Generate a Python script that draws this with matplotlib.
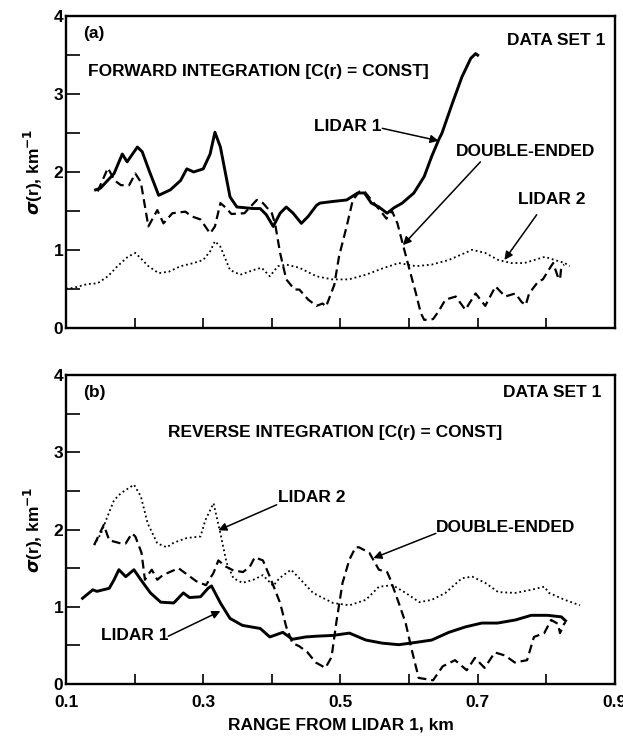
import matplotlib
matplotlib.use('Agg')
from matplotlib import pyplot as plt

plt.rcParams['font.family'] = ['Liberation Sans', 'DejaVu Sans']
plt.rcParams['font.weight'] = 'bold'
plt.rcParams['axes.labelweight'] = 'bold'
plt.rcParams['mathtext.fontset'] = 'dejavusans'

# (a) forward integration
fwd_lidar1_x = [0.143, 0.15, 0.17, 0.182, 0.189, 0.204, 0.211, 0.221, 0.235, 0.252, 0.267, 0.276, 0.286,
                0.30, 0.31, 0.317, 0.325, 0.339, 0.349, 0.373, 0.383, 0.392, 0.402, 0.412, 0.421, 0.431,
                0.443, 0.453, 0.465, 0.47, 0.488, 0.509, 0.525, 0.535, 0.545, 0.556, 0.568, 0.578, 0.59,
                0.607, 0.622, 0.633, 0.643, 0.648, 0.663, 0.677, 0.69, 0.697, 0.70]
fwd_lidar1_y = [1.77, 1.79, 1.98, 2.23, 2.13, 2.32, 2.26, 2.02, 1.70, 1.77, 1.89, 2.04, 2.00,
                2.04, 2.23, 2.51, 2.32, 1.68, 1.55, 1.53, 1.53, 1.45, 1.30, 1.47, 1.55, 1.47,
                1.34, 1.43, 1.57, 1.60, 1.62, 1.64, 1.73, 1.73, 1.60, 1.55, 1.47, 1.54, 1.60,
                1.73, 1.94, 2.20, 2.41, 2.50, 2.88, 3.22, 3.46, 3.52, 3.50]

fwd_double_x = [0.146, 0.161, 0.171, 0.18, 0.192, 0.201, 0.209, 0.22, 0.233, 0.242, 0.255, 0.274, 0.283,
                0.296, 0.31, 0.317, 0.325, 0.333, 0.341, 0.36, 0.378, 0.387, 0.40, 0.405, 0.412, 0.421,
                0.433, 0.44, 0.453, 0.465, 0.474, 0.479, 0.491, 0.498, 0.509, 0.518, 0.528, 0.535, 0.545,
                0.561, 0.567, 0.575, 0.583, 0.593, 0.602, 0.61, 0.617, 0.622, 0.635, 0.643, 0.653, 0.668,
                0.682, 0.697, 0.711, 0.726, 0.74, 0.755, 0.764, 0.77, 0.775, 0.788, 0.795, 0.807, 0.81,
                0.817, 0.82, 0.822, 0.826]
fwd_double_y = [1.75, 2.05, 1.89, 1.83, 1.83, 1.98, 1.87, 1.30, 1.51, 1.34, 1.47, 1.49, 1.43,
                1.39, 1.21, 1.30, 1.60, 1.54, 1.46, 1.47, 1.64, 1.60, 1.47, 1.32, 0.96, 0.62,
                0.49, 0.49, 0.36, 0.28, 0.31, 0.27, 0.55, 0.92, 1.30, 1.64, 1.75, 1.75, 1.64,
                1.47, 1.40, 1.50, 1.34, 1.00, 0.70, 0.44, 0.19, 0.10, 0.11, 0.21, 0.36, 0.40,
                0.23, 0.44, 0.28, 0.53, 0.40, 0.44, 0.33, 0.29, 0.44, 0.59, 0.62, 0.79, 0.83,
                0.65, 0.62, 0.79, 0.81]

fwd_lidar2_x = [0.10, 0.11, 0.131, 0.146, 0.161, 0.175, 0.19, 0.201, 0.209, 0.22, 0.235, 0.25, 0.267,
                0.286, 0.30, 0.31, 0.317, 0.325, 0.339, 0.354, 0.373, 0.385, 0.397, 0.409, 0.421, 0.44,
                0.465, 0.488, 0.512, 0.537, 0.561, 0.585, 0.61, 0.633, 0.658, 0.692, 0.711, 0.73, 0.749,
                0.768, 0.783, 0.798, 0.812, 0.827, 0.834]
fwd_lidar2_y = [0.50, 0.51, 0.56, 0.57, 0.66, 0.79, 0.91, 0.96, 0.89, 0.79, 0.70, 0.72, 0.79,
                0.83, 0.87, 0.98, 1.11, 1.04, 0.74, 0.68, 0.74, 0.77, 0.66, 0.79, 0.81, 0.77,
                0.66, 0.62, 0.62, 0.68, 0.76, 0.83, 0.79, 0.81, 0.87, 1.00, 0.96, 0.87, 0.83,
                0.83, 0.87, 0.91, 0.87, 0.83, 0.79]

# (b) reverse integration
rev_lidar1_x = [0.124, 0.139, 0.145, 0.163, 0.17, 0.177, 0.187, 0.199, 0.209, 0.223, 0.238, 0.257, 0.271,
                0.28, 0.296, 0.307, 0.312, 0.325, 0.339, 0.357, 0.383, 0.397, 0.416, 0.43, 0.449, 0.465,
                0.489, 0.513, 0.537, 0.561, 0.585, 0.61, 0.633, 0.658, 0.682, 0.706, 0.729, 0.755, 0.778,
                0.802, 0.822, 0.828]
rev_lidar1_y = [1.11, 1.22, 1.20, 1.24, 1.35, 1.48, 1.39, 1.48, 1.35, 1.18, 1.06, 1.05, 1.18,
                1.12, 1.13, 1.24, 1.27, 1.05, 0.85, 0.76, 0.72, 0.61, 0.67, 0.58, 0.61, 0.62,
                0.63, 0.66, 0.57, 0.53, 0.51, 0.54, 0.57, 0.67, 0.74, 0.79, 0.79, 0.83, 0.89,
                0.89, 0.87, 0.82]

rev_lidar2_x = [0.141, 0.151, 0.16, 0.17, 0.18, 0.199, 0.209, 0.219, 0.233, 0.247, 0.257, 0.276, 0.296,
                0.303, 0.315, 0.325, 0.334, 0.344, 0.357, 0.373, 0.387, 0.402, 0.411, 0.428, 0.44, 0.46,
                0.489, 0.513, 0.537, 0.556, 0.576, 0.595, 0.615, 0.633, 0.653, 0.677, 0.692, 0.711, 0.73,
                0.755, 0.778, 0.797, 0.804, 0.827, 0.849]
rev_lidar2_y = [1.80, 1.95, 2.16, 2.38, 2.47, 2.58, 2.43, 2.08, 1.82, 1.77, 1.83, 1.89, 1.91,
                2.12, 2.34, 1.95, 1.57, 1.37, 1.31, 1.35, 1.41, 1.27, 1.37, 1.48, 1.37, 1.18,
                1.05, 1.02, 1.09, 1.26, 1.28, 1.18, 1.06, 1.09, 1.18, 1.37, 1.39, 1.31, 1.19,
                1.18, 1.22, 1.26, 1.18, 1.09, 1.02]

rev_double_x = [0.141, 0.155, 0.163, 0.18, 0.187, 0.196, 0.201, 0.21, 0.215, 0.219, 0.225, 0.233, 0.241,
                0.264, 0.27, 0.29, 0.304, 0.315, 0.322, 0.333, 0.344, 0.358, 0.368, 0.375, 0.387, 0.397,
                0.412, 0.421, 0.43, 0.44, 0.452, 0.464, 0.478, 0.487, 0.494, 0.503, 0.513, 0.522, 0.527,
                0.542, 0.556, 0.568, 0.572, 0.585, 0.595, 0.604, 0.614, 0.635, 0.649, 0.667, 0.684, 0.696,
                0.71, 0.725, 0.74, 0.754, 0.772, 0.782, 0.797, 0.807, 0.817, 0.82, 0.826, 0.828]
rev_double_y = [1.80, 2.06, 1.86, 1.82, 1.82, 1.95, 1.91, 1.70, 1.35, 1.41, 1.48, 1.35, 1.41,
                1.50, 1.46, 1.33, 1.28, 1.44, 1.60, 1.52, 1.47, 1.45, 1.52, 1.64, 1.60, 1.39,
                1.05, 0.74, 0.53, 0.49, 0.41, 0.28, 0.21, 0.35, 0.80, 1.31, 1.61, 1.77, 1.77,
                1.70, 1.48, 1.45, 1.37, 1.05, 0.79, 0.44, 0.08, 0.05, 0.23, 0.31, 0.18, 0.34,
                0.21, 0.41, 0.37, 0.28, 0.31, 0.61, 0.66, 0.83, 0.78, 0.66, 0.78, 0.80]

x_ticks = [0.1, 0.2, 0.3, 0.4, 0.5, 0.6, 0.7, 0.8, 0.9]
x_tick_labels = ['0.1', '', '0.3', '', '0.5', '', '0.7', '', '0.9']
y_ticks = [0, 0.5, 1, 1.5, 2, 2.5, 3, 3.5, 4]
y_tick_labels = ['0', '', '1', '', '2', '', '3', '', '4']

TXT = 12.5


def plot_curves(ax, l1x, l1y, dx, dy, l2x, l2y):
    ax.plot(l1x, l1y, color='black', lw=2.1, solid_joinstyle='round')
    ax.plot(dx, dy, color='black', lw=1.6, linestyle=(0, (4, 2.2)))
    ax.plot(l2x, l2y, color='black', lw=1.3, linestyle=(0, (1, 1.6)))


def style_axes(ax, show_x_labels):
    ax.set_xlim(0.1, 0.9)
    ax.set_ylim(0, 4)
    ax.set_xticks(x_ticks)
    ax.set_xticklabels(x_tick_labels if show_x_labels else [''] * len(x_ticks))
    ax.set_yticks(y_ticks)
    ax.set_yticklabels(y_tick_labels)
    ax.tick_params(axis='x', direction='in', length=7, width=1.2, labelsize=12.5, pad=8)
    ax.tick_params(axis='y', direction='in', length=10, width=1.2, labelsize=12.5, pad=2)
    for s in ax.spines.values():
        s.set_linewidth(1.7)
    ax.set_ylabel(r'$\sigma$(r), km$^{-1}$', fontsize=12.5, labelpad=6)


def arrow(ax, head, tail):
    ax.annotate('', xy=head, xytext=tail,
                arrowprops=dict(arrowstyle='-|>', color='black', lw=1.1,
                                mutation_scale=12, shrinkA=0, shrinkB=0))


fig = plt.figure(figsize=(6.23, 7.38), dpi=100)
ax1 = fig.add_axes([0.106, 0.556, 0.881, 0.422])
ax2 = fig.add_axes([0.106, 0.073, 0.881, 0.419])

plot_curves(ax1, fwd_lidar1_x, fwd_lidar1_y, fwd_double_x, fwd_double_y, fwd_lidar2_x, fwd_lidar2_y)
style_axes(ax1, False)
ax1.text(0.125, 3.78, '(a)', fontsize=TXT, va='center')
ax1.text(0.132, 3.29, 'FORWARD INTEGRATION [C(r) = CONST]', fontsize=TXT, va='center')
ax1.text(0.886, 3.69, 'DATA SET 1', fontsize=TXT, va='center', ha='right')
ax1.text(0.462, 2.58, 'LIDAR 1', fontsize=TXT, va='center')
arrow(ax1, (0.643, 2.40), (0.561, 2.56))
ax1.text(0.668, 2.26, 'DOUBLE-ENDED', fontsize=TXT, va='center')
arrow(ax1, (0.591, 1.06), (0.704, 2.13))
ax1.text(0.759, 1.64, 'LIDAR 2', fontsize=TXT, va='center')
arrow(ax1, (0.739, 0.87), (0.786, 1.45))

plot_curves(ax2, rev_lidar1_x, rev_lidar1_y, rev_double_x, rev_double_y, rev_lidar2_x, rev_lidar2_y)
style_axes(ax2, True)
ax2.set_xlabel('RANGE FROM LIDAR 1, km', fontsize=12.5, labelpad=5)
ax2.text(0.125, 3.77, '(b)', fontsize=TXT, va='center')
ax2.text(0.88, 3.77, 'DATA SET 1', fontsize=TXT, va='center', ha='right')
ax2.text(0.249, 3.26, 'REVERSE INTEGRATION [C(r) = CONST]', fontsize=TXT, va='center')
ax2.text(0.409, 2.41, 'LIDAR 2', fontsize=TXT, va='center')
arrow(ax2, (0.322, 1.99), (0.407, 2.32))
ax2.text(0.639, 2.03, 'DOUBLE-ENDED', fontsize=TXT, va='center')
arrow(ax2, (0.548, 1.63), (0.639, 1.95))
ax2.text(0.151, 0.63, 'LIDAR 1', fontsize=TXT, va='center')
arrow(ax2, (0.325, 0.945), (0.249, 0.62))

fig.savefig('out.png', dpi=100)
